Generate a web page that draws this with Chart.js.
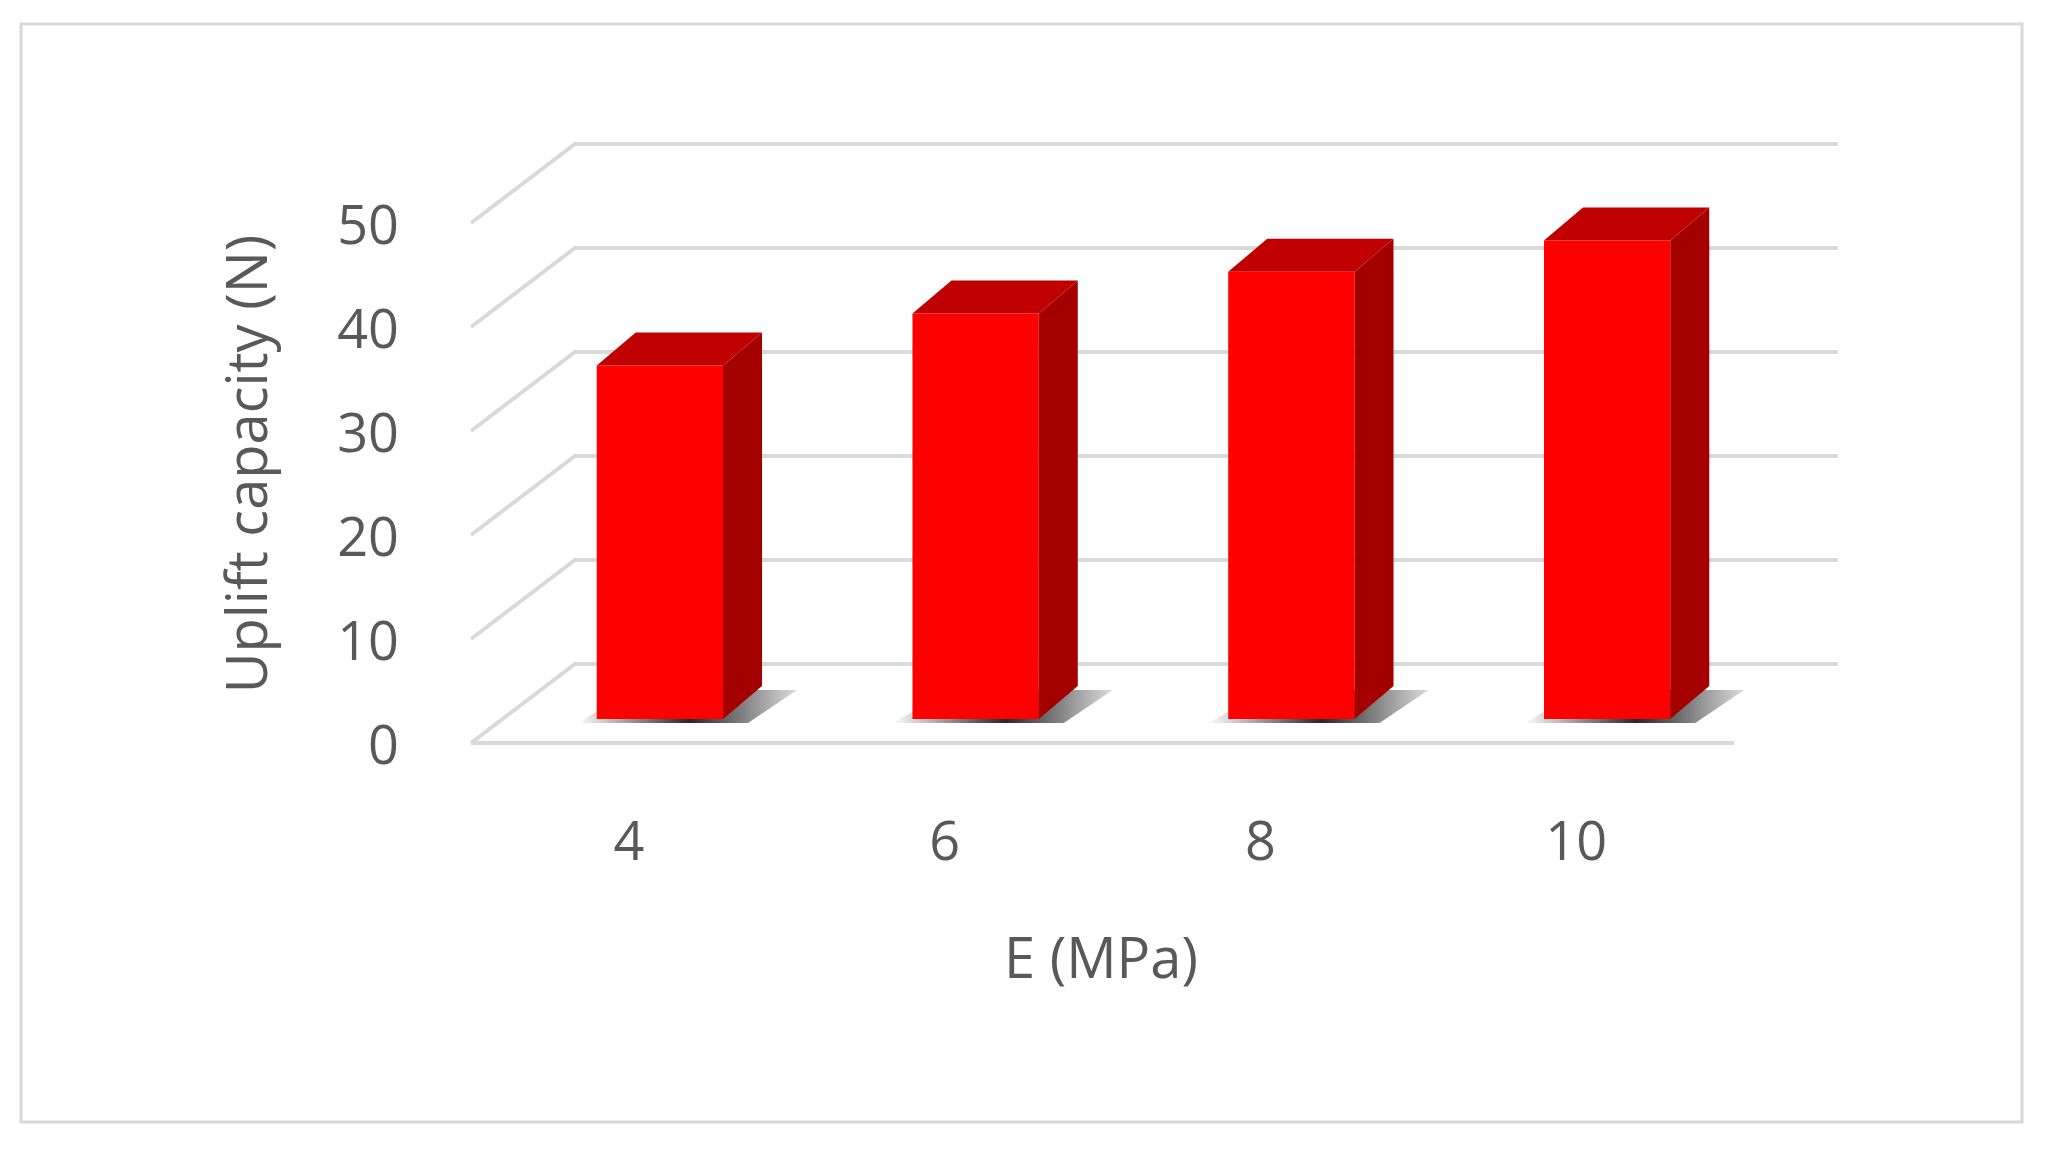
<!DOCTYPE html>
<html>
<head>
<style>
  body { margin: 0; background: #fff; }
  #wrap { width: 2045px; height: 1152px; position: relative; }
</style>
</head>
<body>
<div id="wrap"><canvas id="myChart" width="2045" height="1152"></canvas></div>
<script src="https://cdn.jsdelivr.net/npm/chart.js@4"></script>
<script>
const categories = ['4', '6', '8', '10']
const upliftValues = [34, 39, 43, 46]
const yTicks = [0, 10, 20, 30, 40, 50]

const FONT = "'Open Sans', 'Noto Sans', sans-serif"
const BACK = { x: 73, y: -55 }
const FRONT = { x: -31, y: 24 }
const DEPTH = { x: 39, y: -33 }

const pseudo3d = {
  id: 'pseudo3d',
  beforeDatasetsDraw(chart) {
    const c = chart.ctx, a = chart.chartArea, ys = chart.scales.y
    c.save()
    // frame
    c.strokeStyle = '#d9d9d9'; c.lineWidth = 3
    c.strokeRect(21, 24, 2001, 1098)
    // gridlines: front diagonal + back wall line
    c.strokeStyle = '#d9d9d9'; c.lineWidth = 4
    yTicks.forEach(v => {
      const y = ys.getPixelForValue(v)
      c.beginPath()
      c.moveTo(a.left + FRONT.x, y + FRONT.y)
      c.lineTo(a.left + BACK.x, y + BACK.y)
      c.lineTo(a.right + BACK.x, y + BACK.y)
      c.stroke()
    })
    // floor front edge
    const y0 = ys.getPixelForValue(0)
    c.beginPath()
    c.moveTo(a.left + FRONT.x, y0 + FRONT.y)
    c.lineTo(a.right + FRONT.x, y0 + FRONT.y)
    c.stroke()
    // shadows
    chart.getDatasetMeta(0).data.forEach(bar => {
      const l = bar.x - bar.width / 2, r = bar.x + bar.width / 2
      const g = c.createLinearGradient(l - 20, 0, r + DEPTH.x + 40, 0)
      g.addColorStop(0, 'rgba(0,0,0,0)'); g.addColorStop(0.5, 'rgba(0,0,0,0.85)'); g.addColorStop(1, 'rgba(0,0,0,0.1)')
      c.fillStyle = g
      c.beginPath()
      c.moveTo(l - 20, y0 + 4)
      c.lineTo(r + 25, y0 + 4)
      c.lineTo(r + DEPTH.x + 35, y0 + DEPTH.y + 4)
      c.lineTo(l + DEPTH.x, y0 + DEPTH.y + 4)
      c.closePath(); c.fill()
    })
    c.restore()
  },
  afterDatasetsDraw(chart) {
    const c = chart.ctx, ys = chart.scales.y, xs = chart.scales.x
    c.save()
    chart.getDatasetMeta(0).data.forEach(bar => {
      const l = bar.x - bar.width / 2, r = bar.x + bar.width / 2, t = bar.y, b = bar.base
      c.fillStyle = '#a50000'
      c.beginPath()
      c.moveTo(r, t); c.lineTo(r + DEPTH.x, t + DEPTH.y)
      c.lineTo(r + DEPTH.x, b + DEPTH.y); c.lineTo(r, b); c.closePath(); c.fill()
      c.fillStyle = '#c00000'
      c.beginPath()
      c.moveTo(l, t); c.lineTo(l + DEPTH.x, t + DEPTH.y)
      c.lineTo(r + DEPTH.x, t + DEPTH.y); c.lineTo(r, t); c.closePath(); c.fill()
    })
    // tick labels
    c.fillStyle = '#595959'
    c.font = '54px ' + FONT
    c.textAlign = 'right'; c.textBaseline = 'middle'
    yTicks.forEach(v => c.fillText(String(v), 399, ys.getPixelForValue(v) + FRONT.y + 6))
    c.textAlign = 'center'
    categories.forEach((lab, i) => c.fillText(lab, xs.getPixelForValue(i) + FRONT.x, 845))
    // titles
    c.font = '56px ' + FONT
    c.fillText('E (MPa)', 1101, 962)
    c.translate(251, 464); c.rotate(-Math.PI / 2)
    c.fillText('Uplift capacity (N)', 0, 0)
    c.restore()
  }
}

new Chart(document.getElementById('myChart').getContext('2d'), {
  type: 'bar',
  data: {
    labels: categories,
    datasets: [{
      data: upliftValues,
      backgroundColor: '#ff0000',
      borderWidth: 0,
      barPercentage: 0.4,
      categoryPercentage: 1
    }]
  },
  options: {
    responsive: false,
    animation: false,
    layout: { padding: { left: 502, right: 280, top: 199, bottom: 433 } },
    plugins: { legend: { display: false }, tooltip: { enabled: false } },
    scales: {
      x: { display: false },
      y: { display: false, min: 0, max: 50 }
    }
  },
  plugins: [pseudo3d]
})
</script>
</body>
</html>
